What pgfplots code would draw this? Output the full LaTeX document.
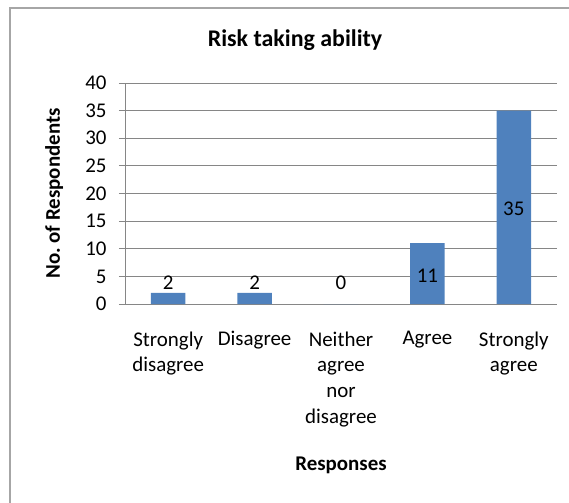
\documentclass[border=0pt]{standalone}
\usepackage{pgfplots}
\pgfplotsset{compat=1.18}
\usepackage{fontspec}
\setmainfont{Carlito}
\frenchspacing
\definecolor{barblue}{HTML}{4F81BD}
\definecolor{gridgray}{HTML}{868686}
\definecolor{framegray}{HTML}{A6A6A6}
\begin{document}
\begin{tikzpicture}
% picture is 569 x 503 bp, axis origin at pixel (125,304)
\useasboundingbox (-125bp,-199bp) rectangle (444bp,304bp);
\begin{scope}
\clip (-125bp,-199bp) rectangle (444bp,304bp);
\draw[framegray, line width=1.2bp] (-115bp,-260bp) rectangle (470bp,296bp);
\end{scope}
\begin{axis}[
  at={(0,0)}, anchor=south west,
  scale only axis, width=432bp, height=221bp,
  xmin=-0.5, xmax=4.5, ymin=0, ymax=40,
  ytick={0,5,...,40},
  xtick={0,1,2,3,4},
  xticklabels={Strongly\\disagree, Disagree, Neither\\agree\\nor\\disagree, Agree, Strongly\\agree},
  axis x line*=bottom, axis y line*=left,
  axis line style={gridgray, line width=0.8bp},
  ymajorgrids, grid style={gridgray, line width=0.8bp},
  tick align=outside, major tick length=6bp,
  ytick style={gridgray, line width=0.8bp},
  xtick style={draw=none},
  /pgf/number format/assume math mode=true,
  tick label style={font=\fontsize{21}{26}\selectfont},
  xticklabel style={align=center, yshift=-18bp},
  yticklabel style={xshift=-9bp},
  xlabel={\textbf{Responses}},
  xlabel style={at={(axis description cs:0.5,0)}, anchor=center, yshift=-161bp, font=\fontsize{21}{26}\selectfont},
  ylabel={\textbf{No.\ of Respondents}},
  ylabel style={at={(axis description cs:-0.164,0.5)}, anchor=center, font=\fontsize{21}{26}\selectfont},
  clip=false,
]
\addplot[ybar, bar width=34.5bp, fill=barblue, draw=none]
  coordinates {(0,2) (1,2) (2,0) (3,11) (4,35)};
\addplot[draw=none, mark=none, nodes near coords, point meta=explicit symbolic,
  nodes near coords style={anchor=center, font=\fontsize{21}{26}\selectfont, text=black}]
  coordinates {(0,3.9)[2] (1,3.9)[2] (2,3.9)[0] (3,5.2)[11] (4,17.3)[35]};
\end{axis}
\node[font=\bfseries\fontsize{24}{28}\selectfont] at (170bp,264bp) {Risk taking ability};
\end{tikzpicture}
\end{document}
